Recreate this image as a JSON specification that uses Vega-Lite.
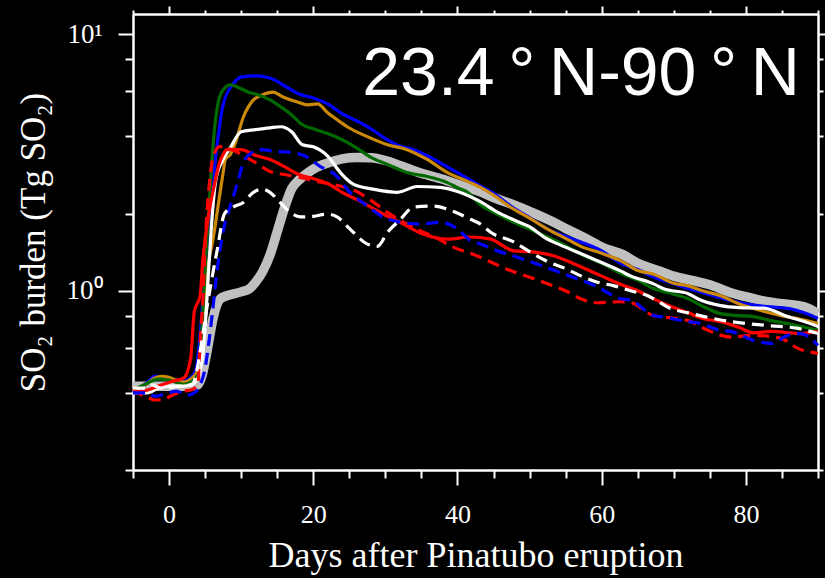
{
  "$schema": "https://vega.github.io/schema/vega-lite/v6.json",
  "autosize": "none",
  "padding": {"left": 133, "top": 14, "right": 7, "bottom": 108},
  "width": 685,
  "height": 456,
  "background": "black",
  "config": {"view": {"stroke": null}, "axis": {"grid": false}},
  "datasets": {
    "series": [
      {"s":"obs","d":-5,"v":0.424},{"s":"obs","d":-3,"v":0.424},{"s":"obs","d":-1,"v":0.424},{"s":"obs","d":1,"v":0.424},{"s":"obs","d":3,"v":0.425},{"s":"obs","d":4,"v":0.43},{"s":"obs","d":4.6,"v":0.47},{"s":"obs","d":5.4,"v":0.61},{"s":"obs","d":6.1,"v":0.78},{"s":"obs","d":7.1,"v":0.93},{"s":"obs","d":8,"v":0.956},{"s":"obs","d":10,"v":0.99},{"s":"obs","d":11.2,"v":1.02},{"s":"obs","d":12,"v":1.08},{"s":"obs","d":13,"v":1.19},{"s":"obs","d":14,"v":1.38},{"s":"obs","d":15,"v":1.7},{"s":"obs","d":16,"v":2.1},{"s":"obs","d":17,"v":2.5},{"s":"obs","d":18,"v":2.7},{"s":"obs","d":19,"v":2.85},{"s":"obs","d":20,"v":2.98},{"s":"obs","d":22,"v":3.15},{"s":"obs","d":24,"v":3.27},{"s":"obs","d":26,"v":3.31},{"s":"obs","d":28,"v":3.3},{"s":"obs","d":30,"v":3.22},{"s":"obs","d":32,"v":3.08},{"s":"obs","d":35,"v":2.87},{"s":"obs","d":38,"v":2.72},{"s":"obs","d":40,"v":2.6},{"s":"obs","d":43,"v":2.44},{"s":"obs","d":45,"v":2.31},{"s":"obs","d":48,"v":2.15},{"s":"obs","d":50,"v":2.04},{"s":"obs","d":53,"v":1.87},{"s":"obs","d":55,"v":1.75},{"s":"obs","d":58,"v":1.59},{"s":"obs","d":60,"v":1.48},{"s":"obs","d":63,"v":1.38},{"s":"obs","d":65,"v":1.28},{"s":"obs","d":68,"v":1.195},{"s":"obs","d":70,"v":1.14},{"s":"obs","d":73,"v":1.09},{"s":"obs","d":75,"v":1.055},{"s":"obs","d":78,"v":0.98},{"s":"obs","d":80,"v":0.948},{"s":"obs","d":83,"v":0.906},{"s":"obs","d":85,"v":0.89},{"s":"obs","d":88,"v":0.867},{"s":"obs","d":90,"v":0.814},

      {"s":"blue","d":-5,"v":0.41},{"s":"blue","d":-4.5,"v":0.405},{"s":"blue","d":-3,"v":0.44},{"s":"blue","d":-2,"v":0.464},{"s":"blue","d":0,"v":0.456},{"s":"blue","d":1.5,"v":0.444},{"s":"blue","d":2.5,"v":0.448},{"s":"blue","d":3.2,"v":0.464},{"s":"blue","d":3.7,"v":0.49},{"s":"blue","d":4.5,"v":0.78},{"s":"blue","d":5,"v":1.22},{"s":"blue","d":5.5,"v":1.9},{"s":"blue","d":6,"v":2.49},{"s":"blue","d":6.7,"v":3.78},{"s":"blue","d":7.5,"v":5.31},{"s":"blue","d":9,"v":6.46},{"s":"blue","d":10,"v":6.81},{"s":"blue","d":12,"v":6.88},{"s":"blue","d":14,"v":6.75},{"s":"blue","d":16,"v":6.3},{"s":"blue","d":18,"v":5.85},{"s":"blue","d":20,"v":5.65},{"s":"blue","d":22,"v":5.35},{"s":"blue","d":24,"v":4.9},{"s":"blue","d":26,"v":4.6},{"s":"blue","d":28,"v":4.28},{"s":"blue","d":30,"v":3.92},{"s":"blue","d":32,"v":3.67},{"s":"blue","d":34,"v":3.55},{"s":"blue","d":36,"v":3.34},{"s":"blue","d":38,"v":3.11},{"s":"blue","d":40,"v":2.89},{"s":"blue","d":43,"v":2.58},{"s":"blue","d":45,"v":2.4},{"s":"blue","d":47.8,"v":2.1},{"s":"blue","d":50,"v":1.93},{"s":"blue","d":52.5,"v":1.74},{"s":"blue","d":55,"v":1.63},{"s":"blue","d":57.1,"v":1.55},{"s":"blue","d":60,"v":1.43},{"s":"blue","d":62.6,"v":1.28},{"s":"blue","d":65,"v":1.21},{"s":"blue","d":67.2,"v":1.13},{"s":"blue","d":70,"v":1.064},{"s":"blue","d":72,"v":1.02},{"s":"blue","d":75,"v":0.965},{"s":"blue","d":78,"v":0.914},{"s":"blue","d":80,"v":0.89},{"s":"blue","d":83,"v":0.867},{"s":"blue","d":86,"v":0.852},{"s":"blue","d":88,"v":0.822},{"s":"blue","d":90,"v":0.78},

      {"s":"orange","d":-5,"v":0.41},{"s":"orange","d":-4,"v":0.417},{"s":"orange","d":-3,"v":0.436},{"s":"orange","d":-2,"v":0.456},{"s":"orange","d":-1,"v":0.464},{"s":"orange","d":0,"v":0.46},{"s":"orange","d":1,"v":0.448},{"s":"orange","d":2,"v":0.44},{"s":"orange","d":3,"v":0.452},{"s":"orange","d":4,"v":0.49},{"s":"orange","d":4.5,"v":0.596},{"s":"orange","d":5,"v":1.02},{"s":"orange","d":5.5,"v":1.3},{"s":"orange","d":6.1,"v":1.59},{"s":"orange","d":6.8,"v":2.14},{"s":"orange","d":7.5,"v":2.89},{"s":"orange","d":7.8,"v":3.25},{"s":"orange","d":8.5,"v":3.4},{"s":"orange","d":9.2,"v":3.78},{"s":"orange","d":10.3,"v":4.75},{"s":"orange","d":11.7,"v":5.55},{"s":"orange","d":12.9,"v":5.8},{"s":"orange","d":14.4,"v":5.95},{"s":"orange","d":15.8,"v":5.7},{"s":"orange","d":17.8,"v":5.45},{"s":"orange","d":19.2,"v":5.31},{"s":"orange","d":20.6,"v":5.35},{"s":"orange","d":22,"v":4.94},{"s":"orange","d":23.75,"v":4.55},{"s":"orange","d":24.7,"v":4.36},{"s":"orange","d":27.5,"v":3.99},{"s":"orange","d":30.3,"v":3.71},{"s":"orange","d":33,"v":3.55},{"s":"orange","d":35.8,"v":3.25},{"s":"orange","d":38.6,"v":2.89},{"s":"orange","d":41.4,"v":2.67},{"s":"orange","d":43.2,"v":2.53},{"s":"orange","d":45,"v":2.36},{"s":"orange","d":47.8,"v":2.08},{"s":"orange","d":50,"v":1.92},{"s":"orange","d":52.5,"v":1.74},{"s":"orange","d":55,"v":1.6},{"s":"orange","d":57.1,"v":1.49},{"s":"orange","d":60,"v":1.4},{"s":"orange","d":62.6,"v":1.31},{"s":"orange","d":65,"v":1.2},{"s":"orange","d":67.2,"v":1.16},{"s":"orange","d":70,"v":1.07},{"s":"orange","d":72,"v":1.045},{"s":"orange","d":74,"v":1.0},{"s":"orange","d":76.5,"v":0.956},{"s":"orange","d":79,"v":0.89},{"s":"orange","d":81.1,"v":0.852},{"s":"orange","d":84.9,"v":0.8},{"s":"orange","d":87,"v":0.78},{"s":"orange","d":90,"v":0.745},

      {"s":"green","d":-5,"v":0.41},{"s":"green","d":-3,"v":0.436},{"s":"green","d":-1.5,"v":0.452},{"s":"green","d":0,"v":0.448},{"s":"green","d":2,"v":0.432},{"s":"green","d":3,"v":0.44},{"s":"green","d":4,"v":0.47},{"s":"green","d":4.5,"v":0.652},{"s":"green","d":5,"v":1.22},{"s":"green","d":5.7,"v":2.49},{"s":"green","d":6.2,"v":3.99},{"s":"green","d":6.8,"v":5.4},{"s":"green","d":7.5,"v":6.07},{"s":"green","d":8.5,"v":6.35},{"s":"green","d":10,"v":6.13},{"s":"green","d":11,"v":5.95},{"s":"green","d":12,"v":5.85},{"s":"green","d":14,"v":5.55},{"s":"green","d":15.5,"v":5.21},{"s":"green","d":17,"v":4.85},{"s":"green","d":18.5,"v":4.44},{"s":"green","d":20,"v":4.28},{"s":"green","d":22,"v":4.1},{"s":"green","d":24,"v":3.88},{"s":"green","d":26,"v":3.61},{"s":"green","d":28,"v":3.31},{"s":"green","d":30.3,"v":3.11},{"s":"green","d":33,"v":2.89},{"s":"green","d":35.8,"v":2.79},{"s":"green","d":38.6,"v":2.64},{"s":"green","d":40,"v":2.52},{"s":"green","d":41.4,"v":2.42},{"s":"green","d":43.2,"v":2.16},{"s":"green","d":45,"v":2.02},{"s":"green","d":47.8,"v":1.85},{"s":"green","d":50,"v":1.74},{"s":"green","d":52.5,"v":1.62},{"s":"green","d":55,"v":1.5},{"s":"green","d":57.1,"v":1.39},{"s":"green","d":60,"v":1.28},{"s":"green","d":62.6,"v":1.17},{"s":"green","d":65,"v":1.1},{"s":"green","d":67.2,"v":1.02},{"s":"green","d":70,"v":0.97},{"s":"green","d":72,"v":0.931},{"s":"green","d":74,"v":0.87},{"s":"green","d":76.5,"v":0.814},{"s":"green","d":79,"v":0.8},{"s":"green","d":81.1,"v":0.793},{"s":"green","d":83,"v":0.77},{"s":"green","d":85.8,"v":0.745},{"s":"green","d":88,"v":0.722},{"s":"green","d":90,"v":0.7},

      {"s":"white","d":-5,"v":0.4},{"s":"white","d":-3,"v":0.4},{"s":"white","d":-1.5,"v":0.417},{"s":"white","d":0,"v":0.425},{"s":"white","d":2,"v":0.425},{"s":"white","d":3,"v":0.43},{"s":"white","d":4,"v":0.456},{"s":"white","d":5,"v":0.713},{"s":"white","d":5.5,"v":1.22},{"s":"white","d":6,"v":1.99},{"s":"white","d":6.5,"v":2.72},{"s":"white","d":7.5,"v":3.25},{"s":"white","d":8.5,"v":3.61},{"s":"white","d":10,"v":4.17},{"s":"white","d":12,"v":4.25},{"s":"white","d":14,"v":4.32},{"s":"white","d":15.5,"v":4.36},{"s":"white","d":17,"v":4.17},{"s":"white","d":18.5,"v":3.71},{"s":"white","d":20,"v":3.64},{"s":"white","d":22,"v":3.35},{"s":"white","d":23.75,"v":2.89},{"s":"white","d":25.6,"v":2.6},{"s":"white","d":28.3,"v":2.49},{"s":"white","d":31.7,"v":2.42},{"s":"white","d":34.4,"v":2.55},{"s":"white","d":37.6,"v":2.53},{"s":"white","d":40,"v":2.44},{"s":"white","d":43,"v":2.24},{"s":"white","d":45.6,"v":2.02},{"s":"white","d":48,"v":1.88},{"s":"white","d":50.1,"v":1.77},{"s":"white","d":52,"v":1.62},{"s":"white","d":54.7,"v":1.49},{"s":"white","d":57,"v":1.4},{"s":"white","d":59.4,"v":1.31},{"s":"white","d":62.6,"v":1.195},{"s":"white","d":64,"v":1.143},{"s":"white","d":67.2,"v":1.064},{"s":"white","d":68.6,"v":1.018},{"s":"white","d":72,"v":0.974},{"s":"white","d":73.3,"v":0.931},{"s":"white","d":76.5,"v":0.875},{"s":"white","d":79,"v":0.86},{"s":"white","d":82.5,"v":0.855},{"s":"white","d":85.8,"v":0.793},{"s":"white","d":88,"v":0.76},{"s":"white","d":90,"v":0.725},

      {"s":"red","d":-5,"v":0.4},{"s":"red","d":-3,"v":0.41},{"s":"red","d":-1.5,"v":0.425},{"s":"red","d":0.5,"v":0.444},{"s":"red","d":2,"v":0.456},{"s":"red","d":3,"v":0.545},{"s":"red","d":3.5,"v":0.829},{"s":"red","d":4.3,"v":0.956},{"s":"red","d":4.7,"v":1.33},{"s":"red","d":5.5,"v":1.99},{"s":"red","d":6.3,"v":2.6},{"s":"red","d":7,"v":3.16},{"s":"red","d":7.5,"v":3.4},{"s":"red","d":8,"v":3.55},{"s":"red","d":10,"v":3.55},{"s":"red","d":12,"v":3.37},{"s":"red","d":14,"v":3.25},{"s":"red","d":16,"v":3.05},{"s":"red","d":18,"v":2.84},{"s":"red","d":20,"v":2.74},{"s":"red","d":22,"v":2.62},{"s":"red","d":24,"v":2.42},{"s":"red","d":26,"v":2.27},{"s":"red","d":28,"v":2.12},{"s":"red","d":30,"v":1.97},{"s":"red","d":32,"v":1.85},{"s":"red","d":35.3,"v":1.66},{"s":"red","d":38.6,"v":1.59},{"s":"red","d":41.8,"v":1.62},{"s":"red","d":44.6,"v":1.59},{"s":"red","d":47.8,"v":1.43},{"s":"red","d":50.1,"v":1.42},{"s":"red","d":53.3,"v":1.37},{"s":"red","d":57.1,"v":1.24},{"s":"red","d":60,"v":1.14},{"s":"red","d":62.6,"v":1.06},{"s":"red","d":65,"v":1.0},{"s":"red","d":67.2,"v":0.93},{"s":"red","d":70,"v":0.86},{"s":"red","d":72,"v":0.82},{"s":"red","d":74,"v":0.78},{"s":"red","d":76.5,"v":0.758},{"s":"red","d":79,"v":0.72},{"s":"red","d":81.1,"v":0.685},{"s":"red","d":83.5,"v":0.694},{"s":"red","d":87.6,"v":0.681},{"s":"red","d":90,"v":0.694},

      {"s":"red_dash","d":-5,"v":0.417},{"s":"red_dash","d":-4,"v":0.395},{"s":"red_dash","d":-3,"v":0.385},{"s":"red_dash","d":-2,"v":0.375},{"s":"red_dash","d":-1,"v":0.375},{"s":"red_dash","d":0.5,"v":0.392},{"s":"red_dash","d":2,"v":0.406},{"s":"red_dash","d":3,"v":0.41},{"s":"red_dash","d":4,"v":0.43},{"s":"red_dash","d":4.2,"v":0.545},{"s":"red_dash","d":4.4,"v":0.694},{"s":"red_dash","d":4.7,"v":0.931},{"s":"red_dash","d":5,"v":1.52},{"s":"red_dash","d":5.4,"v":2.27},{"s":"red_dash","d":6.1,"v":3.31},{"s":"red_dash","d":7,"v":3.65},{"s":"red_dash","d":8,"v":3.61},{"s":"red_dash","d":9,"v":3.52},{"s":"red_dash","d":10,"v":3.4},{"s":"red_dash","d":12,"v":3.16},{"s":"red_dash","d":14,"v":2.92},{"s":"red_dash","d":16,"v":2.84},{"s":"red_dash","d":18,"v":2.77},{"s":"red_dash","d":20,"v":2.69},{"s":"red_dash","d":22,"v":2.62},{"s":"red_dash","d":24,"v":2.55},{"s":"red_dash","d":26,"v":2.44},{"s":"red_dash","d":28,"v":2.25},{"s":"red_dash","d":30.3,"v":2.02},{"s":"red_dash","d":32.5,"v":1.85},{"s":"red_dash","d":34.9,"v":1.71},{"s":"red_dash","d":37.2,"v":1.6},{"s":"red_dash","d":39.4,"v":1.48},{"s":"red_dash","d":41.8,"v":1.4},{"s":"red_dash","d":43.2,"v":1.35},{"s":"red_dash","d":45,"v":1.28},{"s":"red_dash","d":47.8,"v":1.185},{"s":"red_dash","d":50,"v":1.13},{"s":"red_dash","d":52.5,"v":1.064},{"s":"red_dash","d":55,"v":1.0},{"s":"red_dash","d":57.1,"v":0.931},{"s":"red_dash","d":59.4,"v":0.898},{"s":"red_dash","d":62.6,"v":0.906},{"s":"red_dash","d":64,"v":0.9},{"s":"red_dash","d":67.2,"v":0.8},{"s":"red_dash","d":68.6,"v":0.79},{"s":"red_dash","d":72,"v":0.765},{"s":"red_dash","d":74.2,"v":0.713},{"s":"red_dash","d":76.5,"v":0.67},{"s":"red_dash","d":78,"v":0.66},{"s":"red_dash","d":81.1,"v":0.67},{"s":"red_dash","d":84.9,"v":0.652},{"s":"red_dash","d":87.2,"v":0.596},{"s":"red_dash","d":90,"v":0.57},

      {"s":"blue_dash","d":-5,"v":0.4},{"s":"blue_dash","d":-3,"v":0.4},{"s":"blue_dash","d":-2,"v":0.388},{"s":"blue_dash","d":0,"v":0.4},{"s":"blue_dash","d":1,"v":0.406},{"s":"blue_dash","d":2.5,"v":0.392},{"s":"blue_dash","d":3.5,"v":0.4},{"s":"blue_dash","d":4.3,"v":0.428},{"s":"blue_dash","d":5,"v":0.499},{"s":"blue_dash","d":5.5,"v":0.623},{"s":"blue_dash","d":6,"v":0.814},{"s":"blue_dash","d":6.7,"v":1.22},{"s":"blue_dash","d":7.3,"v":1.59},{"s":"blue_dash","d":8,"v":1.95},{"s":"blue_dash","d":8.5,"v":2.14},{"s":"blue_dash","d":9.5,"v":2.64},{"s":"blue_dash","d":10.3,"v":3.16},{"s":"blue_dash","d":11.5,"v":3.46},{"s":"blue_dash","d":12.5,"v":3.55},{"s":"blue_dash","d":15,"v":3.49},{"s":"blue_dash","d":17,"v":3.46},{"s":"blue_dash","d":19,"v":3.34},{"s":"blue_dash","d":21,"v":3.05},{"s":"blue_dash","d":23,"v":2.84},{"s":"blue_dash","d":25.1,"v":2.42},{"s":"blue_dash","d":27.5,"v":2.14},{"s":"blue_dash","d":29.7,"v":1.94},{"s":"blue_dash","d":32.1,"v":1.85},{"s":"blue_dash","d":34.9,"v":1.82},{"s":"blue_dash","d":37.6,"v":1.85},{"s":"blue_dash","d":40,"v":1.74},{"s":"blue_dash","d":41.8,"v":1.57},{"s":"blue_dash","d":43.2,"v":1.52},{"s":"blue_dash","d":45.6,"v":1.43},{"s":"blue_dash","d":50.1,"v":1.3},{"s":"blue_dash","d":54.7,"v":1.164},{"s":"blue_dash","d":59.4,"v":1.036},{"s":"blue_dash","d":62.6,"v":0.931},{"s":"blue_dash","d":64,"v":0.92},{"s":"blue_dash","d":67.2,"v":0.8},{"s":"blue_dash","d":68.6,"v":0.79},{"s":"blue_dash","d":72,"v":0.758},{"s":"blue_dash","d":73.3,"v":0.75},{"s":"blue_dash","d":76.5,"v":0.7},{"s":"blue_dash","d":77.9,"v":0.694},{"s":"blue_dash","d":81.1,"v":0.64},{"s":"blue_dash","d":83.5,"v":0.623},{"s":"blue_dash","d":85.8,"v":0.67},{"s":"blue_dash","d":87.6,"v":0.681},{"s":"blue_dash","d":90,"v":0.612},

      {"s":"white_dash","d":-5,"v":0.417},{"s":"white_dash","d":-3,"v":0.417},{"s":"white_dash","d":-2.5,"v":0.43},{"s":"white_dash","d":-1,"v":0.417},{"s":"white_dash","d":1.5,"v":0.425},{"s":"white_dash","d":3.2,"v":0.43},{"s":"white_dash","d":4,"v":0.512},{"s":"white_dash","d":4.6,"v":0.652},{"s":"white_dash","d":5.3,"v":0.875},{"s":"white_dash","d":6,"v":1.14},{"s":"white_dash","d":6.7,"v":1.455},{"s":"white_dash","d":7.7,"v":2.0},{"s":"white_dash","d":8.9,"v":2.12},{"s":"white_dash","d":10.3,"v":2.21},{"s":"white_dash","d":11.7,"v":2.42},{"s":"white_dash","d":12.9,"v":2.49},{"s":"white_dash","d":14,"v":2.42},{"s":"white_dash","d":15.4,"v":2.21},{"s":"white_dash","d":16.8,"v":2.02},{"s":"white_dash","d":18.2,"v":1.94},{"s":"white_dash","d":20,"v":1.95},{"s":"white_dash","d":21.9,"v":1.99},{"s":"white_dash","d":23.3,"v":1.94},{"s":"white_dash","d":25.1,"v":1.74},{"s":"white_dash","d":27.5,"v":1.52},{"s":"white_dash","d":28.9,"v":1.49},{"s":"white_dash","d":30.3,"v":1.69},{"s":"white_dash","d":32.1,"v":1.9},{"s":"white_dash","d":33.9,"v":2.12},{"s":"white_dash","d":36.7,"v":2.14},{"s":"white_dash","d":39.4,"v":2.04},{"s":"white_dash","d":41.8,"v":1.9},{"s":"white_dash","d":43.2,"v":1.82},{"s":"white_dash","d":44.6,"v":1.69},{"s":"white_dash","d":47.8,"v":1.55},{"s":"white_dash","d":50,"v":1.42},{"s":"white_dash","d":52.5,"v":1.3},{"s":"white_dash","d":55,"v":1.22},{"s":"white_dash","d":57.1,"v":1.143},{"s":"white_dash","d":59.4,"v":1.08},{"s":"white_dash","d":61.7,"v":1.045},{"s":"white_dash","d":64,"v":1.0},{"s":"white_dash","d":66.4,"v":0.956},{"s":"white_dash","d":67.2,"v":0.931},{"s":"white_dash","d":69.6,"v":0.852},{"s":"white_dash","d":72,"v":0.82},{"s":"white_dash","d":74.2,"v":0.793},{"s":"white_dash","d":77.9,"v":0.758},{"s":"white_dash","d":80,"v":0.745},{"s":"white_dash","d":83.5,"v":0.73},{"s":"white_dash","d":87.2,"v":0.713},{"s":"white_dash","d":90,"v":0.681}
    ]
  },
  "layer": [
    {
      "data": {"name": "series"},
      "transform": [{"filter": "datum.s === 'obs'"}],
      "mark": {"type": "line", "color": "#c0c0c0", "strokeWidth": 9.5, "interpolate": "monotone", "strokeCap": "butt"},
      "encoding": {
        "x": {
          "field": "d", "type": "quantitative",
          "scale": {"domain": [-5, 90], "nice": false, "zero": false},
          "axis": {
            "orient": "bottom",
            "values": [-5,0,5,10,15,20,25,30,35,40,45,50,55,60,65,70,75,80,85,90],
            "labelExpr": "datum.value % 20 === 0 ? datum.label : ''",
            "tickSize": {"condition": {"test": "datum.value % 20 === 0", "value": 15}, "value": 8},
            "tickColor": "white", "tickWidth": 2,
            "domainColor": "white", "domainWidth": 2.5,
            "labelColor": "white", "labelFont": "Liberation Serif", "labelFontSize": 26,
            "labelPadding": 16, "labelOverlap": false, "labelFlush": false,
            "title": "Days after Pinatubo eruption",
            "titleColor": "white", "titleFont": "Liberation Serif", "titleFontSize": 36, "titleFontWeight": "normal",
            "titlePadding": 11
          }
        },
        "y": {
          "field": "v", "type": "quantitative",
          "scale": {"type": "log", "domain": [0.2, 12], "nice": false},
          "axis": {
            "orient": "left",
            "values": [0.2,0.4,0.6,0.8,1,2,4,6,8,10],
            "labelExpr": "datum.value === 1 ? '10\u2070' : datum.value === 10 ? '10\u00b9' : ''",
            "tickSize": {"condition": {"test": "datum.value === 1 || datum.value === 10", "value": 15}, "value": 8},
            "tickColor": "white", "tickWidth": 2,
            "domainColor": "white", "domainWidth": 2.5,
            "labelColor": "white", "labelFont": "Liberation Serif", "labelFontSize": 27,
            "labelPadding": 16, "labelOverlap": false, "labelFlush": false,
            "title": "SO\u2082 burden (Tg SO\u2082)",
            "titleColor": "white", "titleFont": "Liberation Serif", "titleFontSize": 35, "titleFontWeight": "normal",
            "titlePadding": 15
          }
        }
      }
    },
    {
      "data": {"name": "series"},
      "transform": [{"filter": "indexof(['blue','orange','green','white','red'], datum.s) >= 0"}],
      "mark": {"type": "line", "strokeWidth": 3.2, "interpolate": "monotone"},
      "encoding": {
        "x": {
          "field": "d", "type": "quantitative",
          "axis": {
            "orient": "top",
            "values": [-5,0,5,10,15,20,25,30,35,40,45,50,55,60,65,70,75,80,85,90],
            "labels": false, "title": null,
            "tickSize": {"condition": {"test": "datum.value % 20 === 0", "value": 8}, "value": 4},
            "tickColor": "white", "tickWidth": 2,
            "domainColor": "white", "domainWidth": 2.5
          }
        },
        "y": {
          "field": "v", "type": "quantitative",
          "axis": {
            "orient": "right",
            "values": [0.2,0.4,0.6,0.8,1,2,4,6,8,10],
            "labels": false, "title": null,
            "tickSize": {"condition": {"test": "datum.value === 1 || datum.value === 10", "value": 8}, "value": 5},
            "tickColor": "white", "tickWidth": 2,
            "domainColor": "white", "domainWidth": 2.5
          }
        },
        "color": {
          "field": "s", "type": "nominal", "legend": null,
          "scale": {
            "domain": ["blue","orange","green","white","red","red_dash","blue_dash","white_dash"],
            "range": ["#0000ff","#cd8a0a","#006a00","#ffffff","#ff0000","#ff0000","#0000ff","#ffffff"]
          }
        }
      }
    },
    {
      "data": {"name": "series"},
      "transform": [{"filter": "indexof(['red_dash','blue_dash','white_dash'], datum.s) >= 0"}],
      "mark": {"type": "line", "strokeWidth": 3.2, "strokeDash": [12, 7], "interpolate": "monotone"},
      "encoding": {
        "x": {"field": "d", "type": "quantitative", "axis": null},
        "y": {"field": "v", "type": "quantitative", "axis": null},
        "color": {"field": "s", "type": "nominal", "legend": null}
      }
    },
    {
      "data": {"values": [{"label": "23.4\u2009\u00b0\u2009N-90\u2009\u00b0\u2009N"}]},
      "mark": {"type": "text", "align": "right", "baseline": "alphabetic", "font": "Liberation Sans", "fontSize": 68, "color": "white"},
      "encoding": {
        "x": {"datum": 87.5, "type": "quantitative", "axis": null},
        "y": {"datum": 5.8, "type": "quantitative", "axis": null},
        "text": {"field": "label"}
      }
    }
  ],
  "resolve": {"axis": {"x": "independent", "y": "independent"}}
}
